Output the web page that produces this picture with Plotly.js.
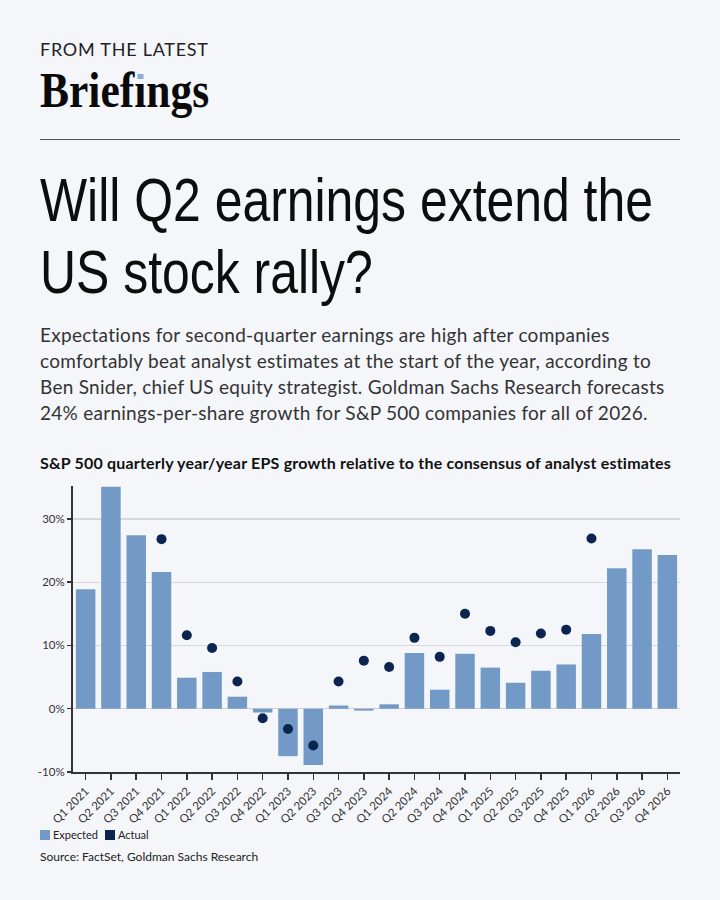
<!DOCTYPE html>
<html>
<head>
<meta charset="utf-8">
<script src="https://cdn.plot.ly/plotly-3.0.1.min.js"></script>
<style>
  html, body { margin: 0; padding: 0; }
  body {
    width: 720px; height: 900px; position: relative; overflow: hidden;
    background: #f5f6fa; font-family: Lato, "Noto Sans", sans-serif; color: #1a1a1a;
  }
  #chart { position: absolute; left: 0; top: 0; width: 720px; height: 900px; }
  .txt { position: absolute; left: 40px; white-space: nowrap; z-index: 2; }
  #kicker { top: 40px; font-size: 18px; line-height: 18px; letter-spacing: 0.75px; color: #222; }
  #brand {
    top: 65px; font-family: "Liberation Serif", serif; font-weight: 700; font-size: 50px;
    line-height: 50px; color: #0a0a0a; transform: scaleX(0.87); transform-origin: 0 0;
  }
  #brand .dot { position: relative; }
  #brand .dot::before {
    content: ""; position: absolute; left: 50%; top: 11.5px; width: 7px; height: 5.5px;
    margin-left: -3.5px; background: #8eaed5;
  }
  #rule { position: absolute; left: 40px; top: 139px; width: 640px; height: 1px; background: #555; }
  #headline {
    top: 164px; font-family: "Liberation Sans", sans-serif;
    font-size: 61px; line-height: 72px; color: #0d0d0d; transform-origin: 0 0;
  }
  #headline span { display: block; }
  #dek { top: 322px; font-size: 19px; line-height: 26px; letter-spacing: 0.27px; color: #333; }
  #ctitle { top: 455px; font-size: 16px; line-height: 16px; letter-spacing: 0.2px; font-weight: 700; color: #111; }
  #legend { top: 829px; font-size: 11px; line-height: 12px; color: #222; display: flex; align-items: center; }
  #legend .sw { display: inline-block; width: 10px; height: 10px; margin-right: 3px; }
  #legend .item { display: flex; align-items: center; margin-right: 7px; }
  #source { top: 850px; font-size: 12px; line-height: 14px; color: #222; }
</style>
</head>
<body>
<div id="chart"></div>

<div class="txt" id="kicker">FROM THE LATEST</div>
<div class="txt" id="brand">Brief<span class="dot">ı</span>ngs</div>
<div id="rule"></div>
<div class="txt" id="headline"><span id="hl1">Will Q2 earnings extend the</span><span>US stock rally?</span></div>
<div class="txt" id="dek">Expectations for second-quarter earnings are high after companies<br>comfortably beat analyst estimates at the start of the year, according to<br>Ben Snider, chief US equity strategist. Goldman Sachs Research forecasts<br>24% earnings-per-share growth for S&amp;P 500 companies for all of 2026.</div>
<div class="txt" id="ctitle">S&amp;P 500 quarterly year/year EPS growth relative to the consensus of analyst estimates</div>
<div class="txt" id="legend"></div>
<div class="txt" id="source">Source: FactSet, Goldman Sachs Research</div>

<script>
// Quarterly S&P 500 EPS growth, year over year (%)
const quarters = [
  "Q1 2021", "Q2 2021", "Q3 2021", "Q4 2021",
  "Q1 2022", "Q2 2022", "Q3 2022", "Q4 2022",
  "Q1 2023", "Q2 2023", "Q3 2023", "Q4 2023",
  "Q1 2024", "Q2 2024", "Q3 2024", "Q4 2024",
  "Q1 2025", "Q2 2025", "Q3 2025", "Q4 2025",
  "Q1 2026", "Q2 2026", "Q3 2026", "Q4 2026"
];

// Consensus (expected) growth per quarter
const expected = [
  18.9, 35.1, 27.4, 21.6,
  4.9, 5.8, 1.9, -0.6,
  -7.5, -8.9, 0.5, -0.3,
  0.7, 8.8, 3.0, 8.7,
  6.5, 4.1, 6.0, 7.0,
  11.8, 22.2, 25.2, 24.3
];

// Reported (actual) growth per quarter
const actual = [
  null, null, null, 26.8,
  11.6, 9.6, 4.3, -1.5,
  -3.2, -5.8, 4.3, 7.6,
  6.6, 11.2, 8.2, 15.0,
  12.3, 10.5, 11.9, 12.5,
  26.9, null, null, null
];

const yTickVals = [-10, 0, 10, 20, 30];
const yTickText = ["-10%", "0%", "10%", "20%", "30%"];

const seriesNames = ["Expected", "Actual"];
const colExpected = "#7399c6";
const colActual = "#0c2550";

// Condense the headline so its first line spans the text column
(function fitHeadline() {
  const hl = document.getElementById("headline");
  const w = document.getElementById("hl1").getBoundingClientRect().width;
  const target = 613;
  hl.style.transform = "scaleX(" + (target / w) + ")";
})();

const traces = [
  {
    type: "bar",
    name: seriesNames[0],
    x: quarters,
    y: expected,
    marker: { color: colExpected },
    hoverinfo: "skip"
  },
  {
    type: "scatter",
    mode: "markers",
    name: seriesNames[1],
    x: quarters,
    y: actual,
    marker: { color: colActual, size: 10 },
    hoverinfo: "skip"
  }
];

const layout = {
  width: 720,
  height: 900,
  margin: { l: 73, r: 40, t: 486, b: 128, pad: 0 },
  paper_bgcolor: "rgba(0,0,0,0)",
  plot_bgcolor: "rgba(0,0,0,0)",
  showlegend: false,
  bargap: 0.23,
  font: { family: "Lato, sans-serif", color: "#333" },
  xaxis: {
    type: "category",
    range: [-0.5, quarters.length - 0.5],
    showline: true,
    linecolor: "#333",
    linewidth: 2,
    ticks: "outside",
    ticklen: 6,
    tickwidth: 1.5,
    tickcolor: "#333",
    tickangle: -45,
    tickfont: { size: 11.5, color: "#333", family: "Lato, sans-serif" },
    showgrid: false,
    zeroline: false
  },
  yaxis: {
    range: [-10, 35.2],
    tickvals: yTickVals,
    ticktext: yTickText,
    showline: true,
    linecolor: "#333",
    linewidth: 2,
    ticks: "outside",
    ticklen: 4,
    tickwidth: 1.5,
    tickcolor: "#333",
    tickfont: { size: 11.5, color: "#333", family: "Lato, sans-serif" },
    showgrid: true,
    gridcolor: "#d7d8de",
    gridwidth: 1.2,
    zeroline: true,
    zerolinecolor: "#cfd0d6",
    zerolinewidth: 1.5
  }
};

Plotly.newPlot("chart", traces, layout, { staticPlot: true, displayModeBar: false });

// Legend built from the series names and colours
const legendEl = document.getElementById("legend");
[[seriesNames[0], colExpected], [seriesNames[1], colActual]].forEach(([name, color]) => {
  const item = document.createElement("span");
  item.className = "item";
  const sw = document.createElement("span");
  sw.className = "sw";
  sw.style.background = color;
  item.appendChild(sw);
  item.appendChild(document.createTextNode(name));
  legendEl.appendChild(item);
});
</script>
</body>
</html>
